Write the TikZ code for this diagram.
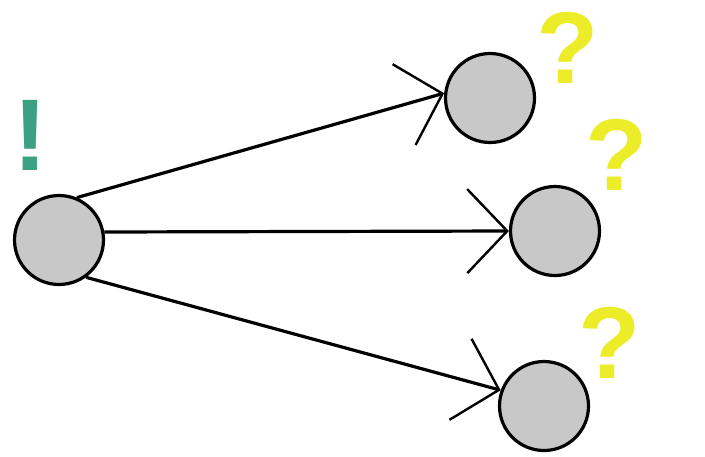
\documentclass[tikz,border=0pt]{standalone}
\usepackage{fontspec}
\setmainfont{Liberation Sans}
\usetikzlibrary{arrows.meta}
\definecolor{dotgray}{RGB}{200,200,200}
\definecolor{qyellow}{RGB}{236,236,40}
\definecolor{exgreen}{RGB}{60,160,130}
\begin{document}
\begin{tikzpicture}[x=0.5pt,y=-0.5pt,
  dot/.style={circle,draw=black,line width=1.6pt,fill=dotgray,minimum size=44.5pt,inner sep=0pt},
  conn/.style={line width=1.6pt,-{Straight Barb[length=20pt,width=42pt,line width=1.2pt]}},
  sign/.style={font=\bfseries\fontsize{51}{51}\selectfont,inner sep=0pt}]
\useasboundingbox (0,0) rectangle (705,456);
\node[dot] (a) at (59,240) {};
\node[dot] (b) at (490,98) {};
\node[dot] (c) at (555,231) {};
\node[dot] (d) at (544,406) {};
\node[sign,text=exgreen] (ex) at (30,135) {!};
\node[sign,text=qyellow] (q1) at (568,48) {?};
\node[sign,text=qyellow] (q2) at (617,155) {?};
\node[sign,text=qyellow] (q3) at (610,343) {?};
\draw[conn] (a.67) -- (b.174);
\draw[conn] (a.10) -- (c.west);
\draw[conn] (a.-54) -- (d.160);
\end{tikzpicture}
\end{document}
